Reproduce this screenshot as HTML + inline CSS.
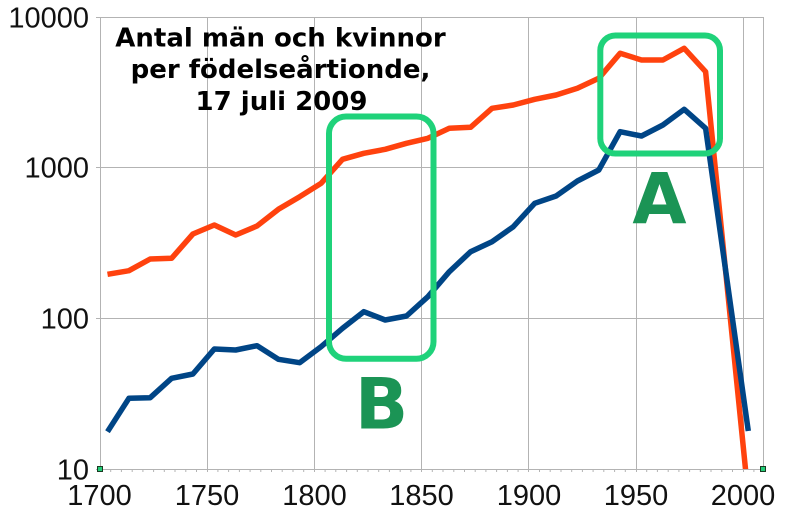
<!DOCTYPE html>
<html>
<head>
<meta charset="utf-8">
<style>
  html, body { margin: 0; padding: 0; background: #ffffff; }
  svg { display: block; }
</style>
</head>
<body>
<svg width="785" height="512" viewBox="0 0 785 512" xmlns="http://www.w3.org/2000/svg">
  <rect x="0" y="0" width="785" height="512" fill="#ffffff"/>

  <!-- gridlines -->
  <g stroke="#b3b3b3" stroke-width="1" fill="none">
    <path d="M96 17.5 H763 M96 167.5 H763 M96 318.5 H763"/>
    <path d="M207.5 17 V469 M314.5 17 V469 M421.5 17 V469 M528.5 17 V469 M636.5 17 V469 M743.5 17 V469 M763.5 17 V469"/>
    <path d="M100.5 17 V472"/>
    <path d="M96 469.5 H763"/>
    <!-- minor ticks -->
    <path d="M110.7 469 v3 M121.4 469 v3 M132.2 469 v3 M142.9 469 v3 M153.6 469 v3 M164.3 469 v3 M175 469 v3 M185.8 469 v3 M196.5 469 v3 M207.5 469 v3
             M217.9 469 v3 M228.6 469 v3 M239.4 469 v3 M250.1 469 v3 M260.8 469 v3 M271.5 469 v3 M282.2 469 v3 M293 469 v3 M303.7 469 v3 M314.5 469 v3
             M325.1 469 v3 M335.8 469 v3 M346.6 469 v3 M357.3 469 v3 M368 469 v3 M378.7 469 v3 M389.4 469 v3 M400.2 469 v3 M410.9 469 v3 M421.5 469 v3
             M432.3 469 v3 M443 469 v3 M453.8 469 v3 M464.5 469 v3 M475.2 469 v3 M485.9 469 v3 M496.6 469 v3 M507.4 469 v3 M518.1 469 v3 M528.5 469 v3
             M539.5 469 v3 M550.2 469 v3 M561 469 v3 M571.7 469 v3 M582.4 469 v3 M593.1 469 v3 M603.8 469 v3 M614.6 469 v3 M625.3 469 v3 M636.5 469 v3
             M646.7 469 v3 M657.4 469 v3 M668.2 469 v3 M678.9 469 v3 M689.6 469 v3 M700.3 469 v3 M711 469 v3 M721.8 469 v3 M732.5 469 v3 M743.5 469 v3
             M753.9 469 v3"/>
  </g>

  <!-- y labels -->
  <g font-family="Liberation Sans, Arial, sans-serif" font-size="29" fill="#111" text-anchor="end">
    <text x="89" y="27.5">10000</text>
    <text x="89" y="177.5">1000</text>
    <text x="89" y="328.5">100</text>
    <text x="89" y="479.5">10</text>
  </g>
  <!-- x labels -->
  <g font-family="Liberation Sans, Arial, sans-serif" font-size="29" fill="#111" text-anchor="middle">
    <text x="99.5" y="505">1700</text>
    <text x="207" y="505">1750</text>
    <text x="314.5" y="505">1800</text>
    <text x="421.5" y="505">1850</text>
    <text x="529" y="505">1900</text>
    <text x="636" y="505">1950</text>
    <text x="743" y="505">2000</text>
  </g>

  <defs>
    <clipPath id="plot"><rect x="100" y="0" width="663" height="469"/></clipPath>
  </defs>

  <g clip-path="url(#plot)" fill="none" stroke-width="5.5" stroke-linejoin="round">
    <!-- orange series -->
    <polyline stroke="#ff420e" points="
      107.5,274.3 128.9,270.7 150.2,259 171.6,258.3 192.9,234 214.3,225 235.7,235 257,226 278.4,209.3 299.7,196.7
      321.1,183.3 342.5,159.3 363.8,153.3 385.2,149.3 406.5,143.3 427.9,138.3 449.3,128.3 470.6,127.3 492,108.3 513.3,105
      534.7,99.3 556.1,95 577.4,88.3 598.8,78.3 620.1,53.3 641.5,60 662.9,60 684.2,48.3 705.6,71.7 748.3,497"/>
    <!-- blue series -->
    <polyline stroke="#004586" points="
      107.5,431.7 128.9,398.3 150.2,397.7 171.6,378.3 192.9,374 214.3,349 235.7,350 257,345.7 278.4,359.3 299.7,362.7
      321.1,346.7 342.5,328.3 363.8,311.7 385.2,320 406.5,316 427.9,296.7 449.3,271.7 470.6,251.7 492,241.7 513.3,226.7
      534.7,203.3 556.1,196 577.4,181 598.8,170 620.1,131.7 641.5,136 662.9,125 684.2,109.3 705.6,128.3 748.3,431"/>
  </g>

  <!-- title -->
  <g font-family="DejaVu Sans, Verdana, sans-serif" font-weight="bold" font-size="26" fill="#000" text-anchor="middle">
    <text x="280.5" y="46.5">Antal män och kvinnor</text>
    <text x="280.5" y="78">per födelseårtionde,</text>
    <text x="281.5" y="110">17 juli 2009</text>
  </g>

  <!-- highlight boxes -->
  <g fill="none" stroke="#1fd27a" stroke-width="6">
    <rect x="600.3" y="35.5" width="119.7" height="118" rx="15" ry="15"/>
    <rect x="329" y="116.5" width="104.5" height="242.2" rx="17" ry="17"/>
  </g>

  <!-- A / B labels -->
  <g font-family="DejaVu Sans, Verdana, sans-serif" font-weight="bold" font-size="70" fill="#1b9455" text-anchor="middle">
    <text x="659.5" y="223.3">A</text>
    <text x="381.5" y="428.3">B</text>
  </g>

  <!-- selection handles -->
  <g fill="#22cc77" stroke="#1a3a22" stroke-width="1">
    <rect x="97.5" y="466.5" width="5" height="5"/>
    <rect x="760.5" y="466.5" width="5" height="5"/>
  </g>
</svg>
</body>
</html>
